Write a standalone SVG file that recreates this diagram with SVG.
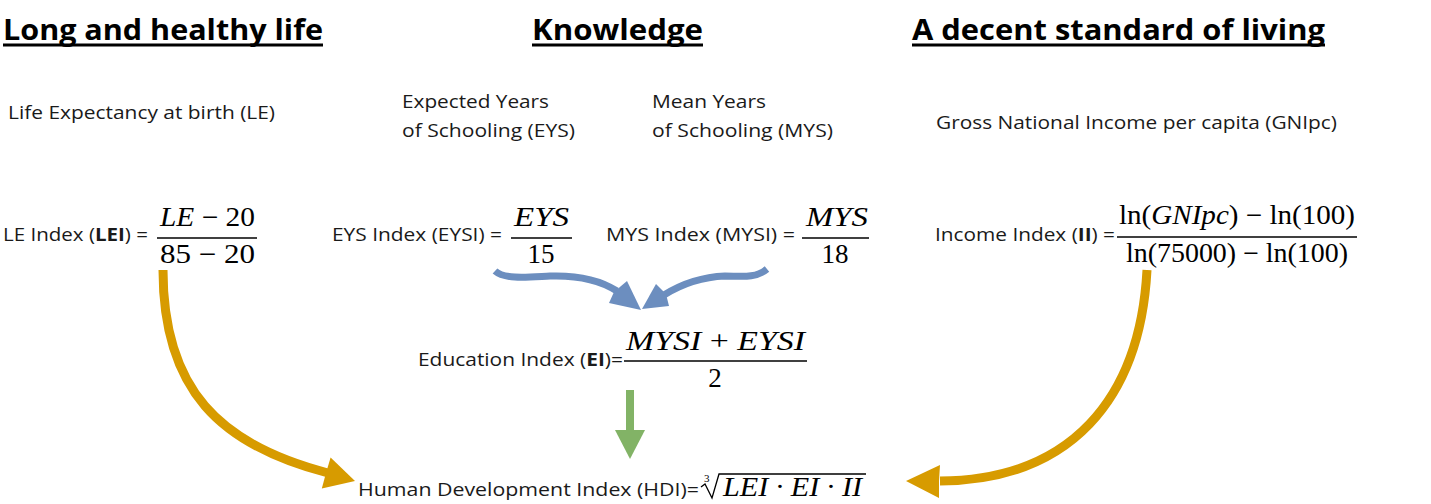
<svg xmlns="http://www.w3.org/2000/svg" width="1431" height="504" viewBox="0 0 1431 504">
<style>
.hd{font-family:"Open Sans","Liberation Sans",sans-serif;font-weight:bold;font-size:29px;fill:#000}
.ul{stroke:#000;stroke-width:3}
.tx{font-family:"Open Sans","Liberation Sans",sans-serif;font-size:18px;fill:#1a1a1a}
.b{font-weight:bold}
.m{font-family:"Liberation Serif","Times New Roman",serif;font-size:27px;fill:#000}
.i{font-style:italic}
.bar{stroke:#000;stroke-width:1.3}
.gold{fill:none;stroke:#d79b00;stroke-width:9}
.goldh{fill:#d79b00}
.blue{fill:none;stroke:#6c8ebf;stroke-width:7}
.blueh{fill:#6c8ebf}
.green{fill:#82b366}
</style>
<rect width="1431" height="504" fill="#fff"/>
<g id="headers">
<text class="hd" x="3" y="40" textLength="320" lengthAdjust="spacingAndGlyphs">Long and healthy life</text>
<line class="ul" x1="3" y1="45" x2="323" y2="45"/>
<text class="hd" x="532" y="40" textLength="171" lengthAdjust="spacingAndGlyphs">Knowledge</text>
<line class="ul" x1="532" y1="45" x2="703" y2="45"/>
<text class="hd" x="912" y="40" textLength="413" lengthAdjust="spacingAndGlyphs">A decent standard of living</text>
<line class="ul" x1="912" y1="45" x2="1325" y2="45"/>
</g>
<g id="inputs">
<text class="tx" x="8" y="119" textLength="267" lengthAdjust="spacingAndGlyphs">Life Expectancy at birth (LE)</text>
<text class="tx" x="402" y="108" textLength="147" lengthAdjust="spacingAndGlyphs">Expected Years</text>
<text class="tx" x="402" y="137" textLength="173" lengthAdjust="spacingAndGlyphs">of Schooling (EYS)</text>
<text class="tx" x="652" y="108" textLength="114" lengthAdjust="spacingAndGlyphs">Mean Years</text>
<text class="tx" x="652" y="137" textLength="181" lengthAdjust="spacingAndGlyphs">of Schooling (MYS)</text>
<text class="tx" x="936" y="129" textLength="401" lengthAdjust="spacingAndGlyphs">Gross National Income per capita (GNIpc)</text>
</g>
<g id="lei">
<text class="tx" x="3" y="241" textLength="145" lengthAdjust="spacingAndGlyphs">LE Index (<tspan class="b">LEI</tspan>) =</text>
<text class="m" x="160" y="226" textLength="95" lengthAdjust="spacingAndGlyphs"><tspan class="i">LE</tspan> − 20</text>
<line class="bar" x1="157" y1="238" x2="257" y2="238"/>
<text class="m" x="160" y="263" textLength="95" lengthAdjust="spacingAndGlyphs">85 − 20</text>
</g>
<g id="eysi">
<text class="tx" x="332" y="241" textLength="170" lengthAdjust="spacingAndGlyphs">EYS Index (EYSI) =</text>
<text class="m i" x="514" y="226" textLength="55" lengthAdjust="spacingAndGlyphs">EYS</text>
<line class="bar" x1="511" y1="238" x2="572" y2="238"/>
<text class="m" x="541" y="263" text-anchor="middle">15</text>
</g>
<g id="mysi">
<text class="tx" x="606" y="241" textLength="189" lengthAdjust="spacingAndGlyphs">MYS Index (MYSI) =</text>
<text class="m i" x="806" y="226" textLength="62" lengthAdjust="spacingAndGlyphs">MYS</text>
<line class="bar" x1="802" y1="238" x2="869" y2="238"/>
<text class="m" x="835" y="263" text-anchor="middle">18</text>
</g>
<g id="ii">
<text class="tx" x="935" y="241" textLength="180" lengthAdjust="spacingAndGlyphs">Income Index (<tspan class="b">II</tspan>) =</text>
<text class="m" x="1119" y="224" textLength="236" lengthAdjust="spacingAndGlyphs">ln(<tspan class="i">GNIpc</tspan>) − ln(100)</text>
<line class="bar" x1="1117" y1="237" x2="1357" y2="237"/>
<text class="m" x="1126" y="262" textLength="222" lengthAdjust="spacingAndGlyphs">ln(75000) − ln(100)</text>
</g>
<g id="ei">
<text class="tx" x="418" y="366" textLength="205" lengthAdjust="spacingAndGlyphs">Education Index (<tspan class="b">EI</tspan>)=</text>
<text class="m" x="626" y="350" textLength="179" lengthAdjust="spacingAndGlyphs"><tspan class="i">MYSI</tspan> + <tspan class="i">EYSI</tspan></text>
<line class="bar" x1="624" y1="361" x2="807" y2="361"/>
<text class="m" x="715" y="387" text-anchor="middle">2</text>
</g>
<g id="hdi">
<text class="tx" x="358" y="496" textLength="341" lengthAdjust="spacingAndGlyphs">Human Development Index (HDI)=</text>
<text x="704" y="482" font-family="Liberation Serif,serif" font-size="11">3</text>
<path d="M701,487 L705,484 L712,498 L719,474 L866,474" fill="none" stroke="#000" stroke-width="1.3"/>
<text class="m i" x="723" y="496" textLength="139" lengthAdjust="spacingAndGlyphs">LEI · EI · II</text>
</g>
<g id="connectors">
<path class="gold" d="M163,270 C163,390 220,445 328,473"/>
<polygon class="goldh" points="355,481 330.6,457.6 326,473 321.8,488.4"/>
<path class="gold" d="M1147,270 C1140,400 1070,480 940,481"/>
<polygon class="goldh" points="906,481 940,465 939,481 939,498"/>
<path class="blue" d="M495,271 C505,280 530,277 550,276 C580,275 600,280 617,291"/>
<polygon class="blueh" points="641,310 627,281 614,292 609,303"/>
<path class="blue" d="M767,269 C755,279 740,276 725,276 C700,277 680,285 664,295"/>
<polygon class="blueh" points="642,309 656,284 666,294 669,306"/>
<rect class="green" x="626" y="390" width="8" height="42"/>
<polygon class="green" points="615,430 645,430 630,459"/>
</g>
</svg>
